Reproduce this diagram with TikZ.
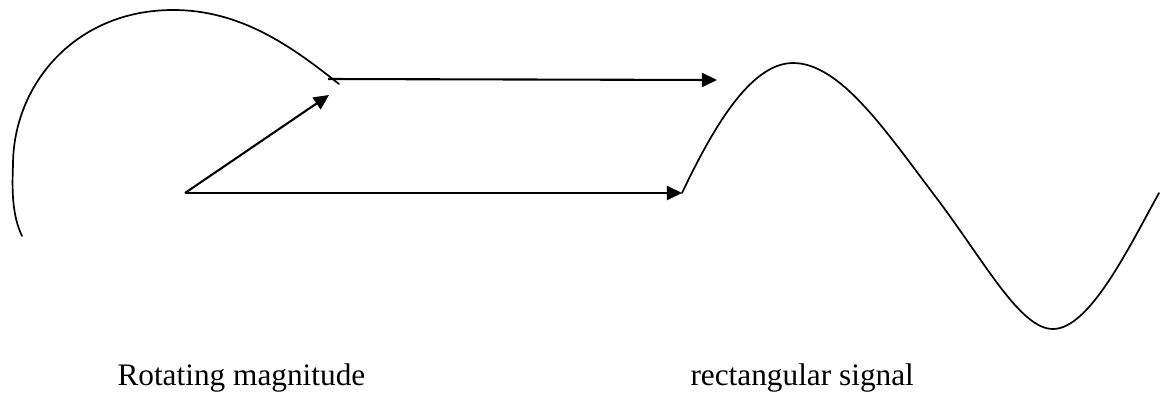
\documentclass[tikz,border=0pt]{standalone}
\usepackage{fontspec}
\setmainfont{Liberation Serif}
\usepackage{tikz}
\usetikzlibrary{arrows.meta}

\begin{document}
\begin{tikzpicture}[
        x=0.3834pt, y=-0.3834pt,
        >={Triangle[length=5.8pt, width=5.4pt]},
        arrow/.style={->, line width=0.8pt},
        curve/.style={line width=0.65pt, line cap=round},
        caption/.style={font=\fontsize{12pt}{14pt}\selectfont, anchor=base west, inner sep=0pt},
    ]
    \useasboundingbox (0,0) rectangle (1170,394);

    % === POINTS ===
    \coordinate (origin) at (185,193);
    \coordinate (vectip) at (329,95);
    \coordinate (topstart) at (328,79);
    \coordinate (topend) at (717,80);
    \coordinate (botend) at (682,193);
    \coordinate (peak) at (793,63);
    \coordinate (cross) at (935,196);
    \coordinate (trough) at (1053,329);
    \coordinate (sigend) at (1159,193);

    % === ROTATION PATH ===
    \draw[curve] (22,236) .. controls (12,215) and (12,190) .. (13,165)
        .. controls (13,85) and (75,10) .. (173,10)
        .. controls (240,10) and (290,45) .. (339,84);

    % === ARROWS ===
    \draw[arrow] (origin) -- (vectip);
    \draw[arrow] (origin) -- (botend);
    \draw[arrow] (topstart) -- (topend);

    % === SINE CURVE ===
    \draw[curve] (botend) .. controls (712,130) and (750,63) .. (peak)
        .. controls (840,63) and (885,130) .. (cross)
        .. controls (985,262) and (1020,329) .. (trough)
        .. controls (1090,329) and (1130,245) .. (sigend);

    % === LABELS ===
    \node[caption] (rotlabel) at (117,385) {Rotating magnitude};
    \node[caption] (siglabel) at (690,385) {rectangular signal};

\end{tikzpicture}
\end{document}
